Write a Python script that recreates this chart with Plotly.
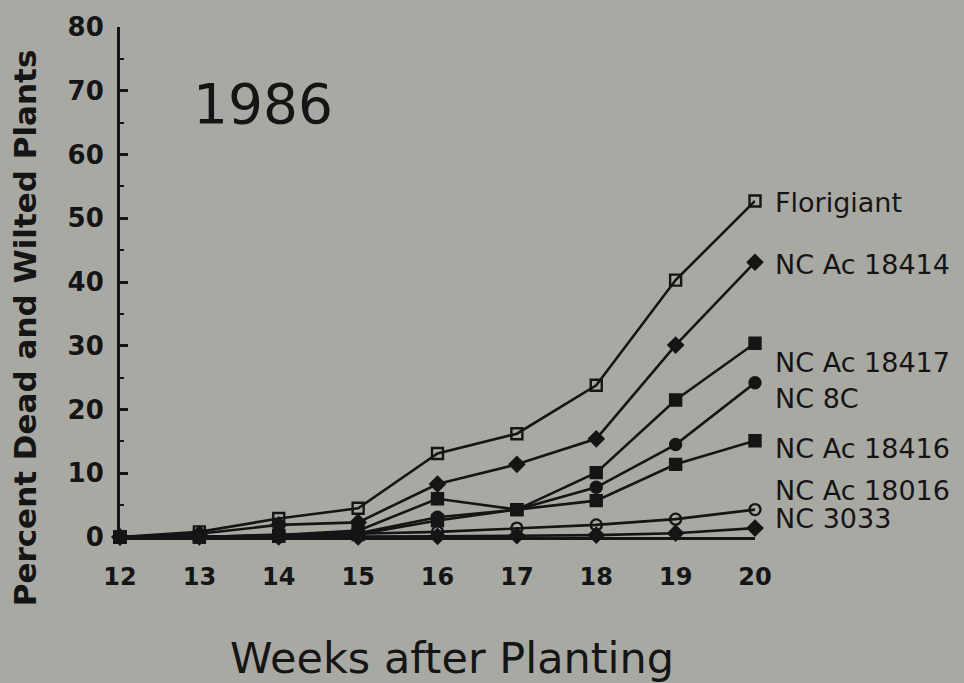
import plotly.graph_objects as go

weeks = [12, 13, 14, 15, 16, 17, 18, 19, 20]
florigiant = [0, 0.8, 2.9, 4.5, 13.1, 16.2, 23.8, 40.3, 52.7]
nc_ac_18414 = [0, 0.5, 1.9, 2.3, 8.3, 11.4, 15.4, 30.1, 43.1]
nc_ac_18417 = [0, 0, 0.3, 1.0, 6.0, 4.3, 10.1, 21.5, 30.4]
nc_8c = [0, 0, 0.2, 0.6, 3.1, 4.3, 7.8, 14.5, 24.2]
nc_ac_18416 = [0, 0, 0.1, 0.4, 2.6, 4.3, 5.7, 11.4, 15.1]
nc_ac_18016 = [0, 0, 0.4, 0.5, 0.8, 1.4, 1.9, 2.8, 4.3]
nc_3033 = [0, 0, 0, 0, 0.1, 0.2, 0.3, 0.6, 1.4]

series = [
    ("Florigiant", florigiant, "square-open"),
    ("NC Ac 18414", nc_ac_18414, "diamond"),
    ("NC Ac 18417", nc_ac_18417, "square"),
    ("NC 8C", nc_8c, "circle"),
    ("NC Ac 18416", nc_ac_18416, "square"),
    ("NC Ac 18016", nc_ac_18016, "circle-open"),
    ("NC 3033", nc_3033, "diamond"),
]
label_y = [52.5, 42.8, 27.3, 21.7, 13.9, 7.3, 2.9]

ink = "#151515"
bg = "#a9a9a4"
font = "DejaVu Sans"

fig = go.Figure()
for (name, vals, sym) in series:
    fig.add_trace(go.Scatter(
        x=weeks, y=vals, mode="lines+markers", name=name,
        line=dict(color=ink, width=2.6),
        marker=dict(symbol=sym, size=11, color=ink,
                    line=dict(color=ink, width=2.4)),
        cliponaxis=False, showlegend=False,
    ))

for (name, vals, sym), ly in zip(series, label_y):
    fig.add_annotation(x=20, y=ly, xref="x", yref="y", text=name, showarrow=False,
                       xanchor="left", xshift=18, font=dict(family=font, size=27, color=ink))

fig.add_annotation(x=0.112, y=0.85, xref="paper", yref="paper", text="1986", showarrow=False,
                   xanchor="left", yanchor="middle", font=dict(family=font, size=55, color=ink))

# axis titles placed as annotations to match the reference positions
fig.add_annotation(x=-0.149, y=0.41, xref="paper", yref="paper",
                   text="<b>Percent Dead and Wilted Plants</b>", textangle=-90, showarrow=False,
                   xanchor="center", yanchor="middle", font=dict(family=font, size=31, color=ink))
fig.add_annotation(x=0.523, y=-0.237, xref="paper", yref="paper",
                   text="Weeks after Planting", showarrow=False,
                   xanchor="center", yanchor="middle", font=dict(family=font, size=43, color=ink))

fig.update_layout(
    width=964, height=683,
    margin=dict(l=120, r=209, t=19, b=146),
    paper_bgcolor=bg, plot_bgcolor=bg,
    font=dict(family=font, color=ink),
)
fig.update_xaxes(
    range=[12, 20], tickmode="array", tickvals=weeks, ticktext=[str(w) for w in weeks],
    showline=True, linecolor=ink, linewidth=3, showgrid=False, zeroline=False,
    ticks="inside", ticklen=5, tickwidth=2, tickcolor=ink, ticklabelstandoff=16,
    tickfont=dict(family=font, size=24, color=ink, weight="bold"),
)
fig.update_yaxes(
    range=[0, 80], tickmode="array", tickvals=list(range(0, 81, 10)),
    showline=True, linecolor=ink, linewidth=3, showgrid=False, zeroline=False,
    ticks="inside", ticklen=8, tickwidth=2.5, tickcolor=ink, ticklabelstandoff=8,
    minor=dict(ticks="inside", ticklen=4, tickwidth=2, tickcolor=ink, dtick=5, showgrid=False),
    tickfont=dict(family=font, size=26, color=ink, weight="bold"),
)

fig.write_html("out.html", config={"displayModeBar": False},
               post_script="document.body.style.margin='0';")
